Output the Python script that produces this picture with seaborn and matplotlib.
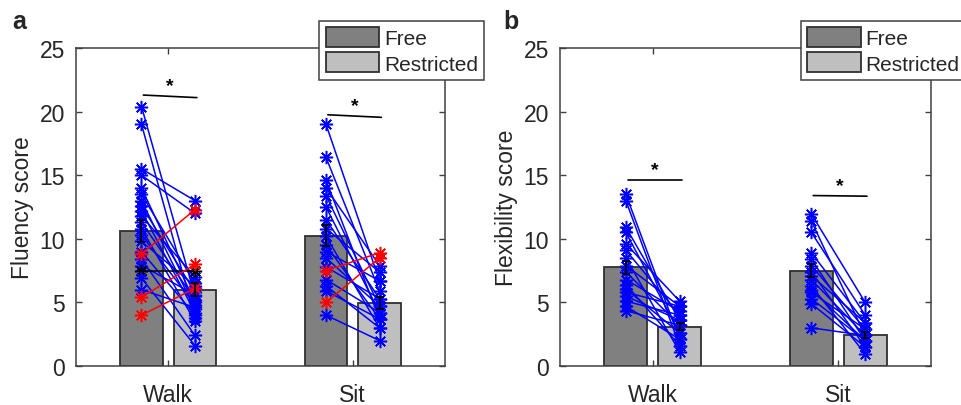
import numpy as np
import pandas as pd
import matplotlib
matplotlib.use("Agg")
import matplotlib.pyplot as plt
import seaborn as sns

sns.set_style("ticks")
plt.rcParams['font.family'] = ['Liberation Sans', 'DejaVu Sans']

activities = ["Walk", "Sit"]
conditions = ["Free", "Restricted"]

# ---- Panel a: fluency ----
a_bar_free = [10.6, 10.25]
a_bar_restr = [6.0, 4.95]
a_err_free = [0.85, 0.8]
a_err_restr = [0.5, 0.45]

a_walk_free = [20.4, 19.0, 15.5, 15.0, 14.0, 13.5, 13.0, 12.6, 12.2, 11.8, 11.3, 10.8,
               10.3, 9.8, 9.0, 8.4, 7.9, 7.5, 6.9, 6.0, 8.8, 5.4, 4.0]
a_walk_restr = [5.5, 3.8, 13.0, 12.0, 5.0, 6.5, 4.5, 5.8, 4.2, 7.0, 5.2, 3.5,
                4.8, 6.3, 4.0, 2.4, 5.6, 7.5, 1.6, 4.6, 12.3, 8.0, 6.1]
a_walk_col = ['b'] * 17 + ['k'] + ['b'] * 2 + ['r'] * 3

a_sit_free = [19.0, 16.4, 14.6, 14.0, 13.4, 12.5, 11.5, 10.8, 10.2, 9.5, 9.0, 8.5,
              7.8, 6.8, 6.3, 5.9, 4.0, 7.5, 5.0]
a_sit_restr = [6.7, 5.9, 3.7, 7.9, 4.7, 4.2, 5.3, 7.4, 3.0, 3.7, 6.7, 4.7,
               5.3, 4.2, 3.0, 3.7, 2.0, 8.9, 8.5]
a_sit_col = ['b'] * 17 + ['r'] * 2

a_sig_y0 = [21.3, 19.75]
a_sig_y1 = [21.1, 19.55]

# ---- Panel b: flexibility ----
b_bar_free = [7.75, 7.5]
b_bar_restr = [3.1, 2.45]
b_err_free = [0.5, 0.5]
b_err_restr = [0.3, 0.25]

b_walk_free = [13.5, 13.0, 10.9, 10.5, 9.6, 9.1, 8.5, 7.9, 7.4, 6.8, 6.05, 5.5, 5.1,
               4.7, 4.35, 6.4, 5.8]
b_walk_restr = [2.1, 1.6, 3.6, 2.6, 5.1, 4.0, 1.1, 4.7, 3.2, 4.3, 2.6, 3.6, 4.0,
                2.1, 3.2, 1.6, 4.7]
b_walk_col = ['b'] * 17

b_sit_free = [11.95, 11.4, 10.5, 8.9, 8.4, 7.9, 7.4, 6.8, 6.3, 5.8, 5.3, 4.9, 3.0, 7.1, 6.0]
b_sit_restr = [5.0, 2.4, 4.0, 3.4, 2.0, 2.9, 1.5, 2.4, 0.95, 2.9, 2.0, 1.5, 2.4, 3.4, 2.0]
b_sit_col = ['b'] * 15

b_sig_y0 = [14.6, 13.4]
b_sig_y1 = [14.6, 13.35]

yticks = [0, 5, 10, 15, 20, 25]
color_map = {'b': '#0000ff', 'r': '#ff0000', 'k': '#000000'}
bar_palette = {"Free": "#808080", "Restricted": "#bfbfbf"}
AX_COL = '#404040'
TXT_COL = '#262626'

fig = plt.figure(figsize=(9.61, 4.06), dpi=100)
W, H = 961, 406
ax_a = fig.add_axes([76 / W, 39 / H, 369 / W, 318 / H])
ax_b = fig.add_axes([560 / W, 39 / H, 371 / W, 318 / H])

asterisk = (8, 2, 0)


def draw_panel(ax, bar_free, bar_restr, err_free, err_restr, subjects, sig0, sig1,
               ylabel, leg_anchor, leg_loc):
    df = pd.DataFrame({
        "activity": activities * 2,
        "condition": [conditions[0]] * 2 + [conditions[1]] * 2,
        "score": list(bar_free) + list(bar_restr),
    })
    sns.barplot(data=df, x="activity", y="score", hue="condition",
                order=activities, hue_order=conditions, palette=bar_palette,
                width=0.58, gap=0.2, errorbar=None, edgecolor='#303030',
                linewidth=1.3, ax=ax, zorder=1)
    # bar centers from the drawn patches (first hue = Free, second = Restricted)
    bars = [p for p in ax.patches if p.get_height() > 0]
    free_bars = sorted(bars[:2], key=lambda p: p.get_x())
    restr_bars = sorted(bars[2:4], key=lambda p: p.get_x())
    xs_free = [p.get_x() + p.get_width() / 2 for p in free_bars]
    xs_restr = [p.get_x() + p.get_width() / 2 for p in restr_bars]
    # subject lines
    for i, (fv, rv, cols) in enumerate(subjects):
        for f, r, c in zip(fv, rv, cols):
            ax.plot([xs_free[i], xs_restr[i]], [f, r], color=color_map[c], lw=1.1,
                    marker=asterisk, markersize=9.5, mew=1.1, zorder=3)
    # error bars
    ax.errorbar(xs_free, bar_free, yerr=err_free, fmt='none', ecolor='k',
                elinewidth=1.3, capsize=3, capthick=1.3, zorder=5)
    ax.errorbar(xs_restr, bar_restr, yerr=err_restr, fmt='none', ecolor='k',
                elinewidth=1.3, capsize=3, capthick=1.3, zorder=5)
    # significance
    for i in range(2):
        x0, x1 = xs_free[i] + 0.01, xs_restr[i] + 0.01
        ax.plot([x0, x1], [sig0[i], sig1[i]], color='k', lw=1.2, zorder=4)
        ax.text((x0 + x1) / 2, (sig0[i] + sig1[i]) / 2 + 0.15, '*', ha='center',
                va='bottom', fontsize=14, fontweight='bold', color='k')

    ax.set_xlim(-0.5, 1.5)
    ax.set_ylim(0, 25)
    ax.set_yticks(yticks)
    ax.set_xticks([0, 1])
    ax.set_xticklabels(activities)
    ax.set_xlabel("")
    ax.set_ylabel(ylabel, fontsize=16.5, color=TXT_COL, labelpad=4)
    ax.tick_params(direction='in', top=True, right=True, length=4, width=1,
                   color=AX_COL, labelsize=16.5, labelcolor=TXT_COL)
    ax.tick_params(axis='y', pad=8)
    ax.tick_params(axis='x', pad=12)
    for s in ax.spines.values():
        s.set_visible(True)
        s.set_color(AX_COL)
        s.set_linewidth(1.1)
    handles, labels = ax.get_legend_handles_labels()
    if ax.get_legend() is not None:
        ax.get_legend().remove()
    leg = ax.legend(handles[:2], labels[:2], loc=leg_loc, bbox_to_anchor=leg_anchor,
                    fontsize=15, frameon=True, fancybox=False, framealpha=1,
                    edgecolor='#404040', handlelength=2.55, handleheight=1.1,
                    labelspacing=0.2, handletextpad=0.25, borderpad=0.3,
                    borderaxespad=0)
    leg.get_frame().set_linewidth(1.1)
    leg.set_zorder(10)


draw_panel(ax_a, a_bar_free, a_bar_restr, a_err_free, a_err_restr,
           [(a_walk_free, a_walk_restr, a_walk_col), (a_sit_free, a_sit_restr, a_sit_col)],
           a_sig_y0, a_sig_y1, "Fluency score", (1.106, 1.085), 'upper right')
draw_panel(ax_b, b_bar_free, b_bar_restr, b_err_free, b_err_restr,
           [(b_walk_free, b_walk_restr, b_walk_col), (b_sit_free, b_sit_restr, b_sit_col)],
           b_sig_y0, b_sig_y1, "Flexibility score", (0.65, 1.085), 'upper left')

fig.text(12 / W, 1 - 29 / H, 'a', fontsize=18, fontweight='bold', va='baseline')
fig.text(503 / W, 1 - 29 / H, 'b', fontsize=18, fontweight='bold', va='baseline')

fig.savefig("out.png", dpi=100)
